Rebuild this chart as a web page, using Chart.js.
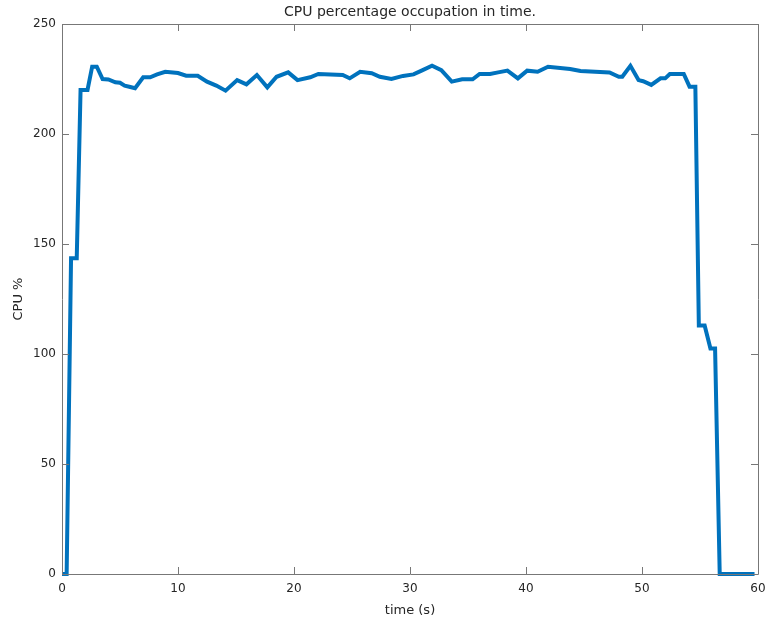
<!DOCTYPE html>
<html>
<head>
<meta charset="utf-8">
<script src="https://cdn.jsdelivr.net/npm/chart.js@4"></script>
<style>
  html, body { margin: 0; padding: 0; background: #fff; }
  #wrap { width: 770px; height: 624px; }
</style>
</head>
<body>
<div id="wrap"><canvas id="cpu-chart" width="770" height="624"></canvas></div>
<script>
// Ocupação de CPU ao longo do tempo (leitura aproximada do gráfico original)
const tempos = [
  0, 0.4, 0.78, 1.27, 1.6, 2.2, 2.6, 3.0, 3.5, 4.0, 4.6, 5.0, 5.4, 5.8, 6.3,
  7.0, 7.6, 8.2, 8.9, 10.0, 10.7, 11.7, 12.5, 13.3, 14.1, 15.1, 15.9, 16.8,
  17.7, 18.5, 19.5, 20.3, 21.4, 22.1, 24.2, 24.8, 25.7, 26.7, 27.4, 28.4,
  29.4, 30.3, 31.0, 31.9, 32.7, 33.6, 34.5, 35.4, 36.0, 36.9, 37.6, 38.4,
  39.3, 40.1, 41.0, 41.9, 43.8, 44.7, 47.2, 48.0, 48.3, 49.0, 49.7, 50.1,
  50.8, 51.6, 52.0, 52.4, 53.6, 54.1, 54.6, 54.9, 55.4, 55.9, 56.3, 56.7, 59.7
];
const cpu = [
  0, 0, 143.5, 143.5, 220, 220, 230.6, 230.6, 225, 224.8, 223.5, 223.3, 222,
  221.5, 220.8, 225.8, 225.8, 227.1, 228.3, 227.7, 226.5, 226.5, 223.8, 222,
  219.7, 224.5, 222.6, 226.8, 221.2, 226, 228, 224.5, 225.8, 227.3, 226.8,
  225.3, 228.3, 227.6, 226, 225, 226.4, 227.1, 228.8, 231, 229, 223.8, 224.9,
  224.9, 227.3, 227.3, 228, 228.8, 225.3, 228.8, 228.3, 230.6, 229.5, 228.6,
  228, 226, 226, 231, 224.5, 224, 222.3, 225.3, 225.3, 227.3, 227.3, 221.5,
  221.5, 113, 113, 102.5, 102.5, 0, 0
];
const ticksX = [0, 10, 20, 30, 40, 50, 60];
const ticksY = [0, 50, 100, 150, 200, 250];
const titulo = "CPU percentage occupation in time.";

const FONTE = "'DejaVu Sans', sans-serif";
const COR_TEXTO = "#262626";
const COR_EIXO = "#777777";

// moldura da área do gráfico + ticks para dentro (estilo MATLAB),
// e o título centrado sobre os eixos (não sobre o canvas inteiro)
const moldura = {
  id: "moldura",
  afterDatasetsDraw(chart) {
    const { ctx, chartArea: a, scales } = chart;
    const L = 7;
    ctx.save();
    ctx.strokeStyle = COR_EIXO;
    ctx.lineWidth = 1;
    ctx.beginPath();
    ctx.rect(Math.round(a.left) + 0.5, Math.round(a.top) + 0.5,
      Math.round(a.right - a.left), Math.round(a.bottom - a.top));
    ticksX.forEach((v) => {
      const x = Math.round(scales.x.getPixelForValue(v)) + 0.5;
      ctx.moveTo(x, a.bottom); ctx.lineTo(x, a.bottom - L);
      ctx.moveTo(x, a.top); ctx.lineTo(x, a.top + L);
    });
    ticksY.forEach((v) => {
      const y = Math.round(scales.y.getPixelForValue(v)) + 0.5;
      ctx.moveTo(a.left, y); ctx.lineTo(a.left + L, y);
      ctx.moveTo(a.right, y); ctx.lineTo(a.right - L, y);
    });
    ctx.stroke();

    ctx.fillStyle = COR_TEXTO;
    ctx.font = "14px " + FONTE;
    ctx.textAlign = "center";
    ctx.textBaseline = "middle";
    ctx.fillText(titulo, (a.left + a.right) / 2, a.top - 12);
    ctx.restore();
  },
};

new Chart(document.getElementById("cpu-chart"), {
  type: "line",
  data: {
    datasets: [{
      label: "CPU",
      data: tempos.map((t, i) => ({ x: t, y: cpu[i] })),
      borderColor: "#0072BD",
      borderWidth: 4,
      pointRadius: 0,
      tension: 0,
      fill: false,
      clip: false,
    }],
  },
  options: {
    responsive: false,
    animation: false,
    layout: { padding: { left: 0, right: 12, top: 24, bottom: 0 } },
    plugins: {
      legend: { display: false },
      tooltip: { enabled: false },
      title: { display: false },
    },
    scales: {
      x: {
        type: "linear",
        min: 0,
        max: 60,
        afterFit: (s) => { s.height = 50; s.paddingLeft = 0; s.paddingRight = 0; },
        afterBuildTicks: (s) => { s.ticks = ticksX.map((v) => ({ value: v })); },
        grid: { display: false, drawTicks: false },
        border: { display: false },
        ticks: { color: COR_TEXTO, padding: 8, maxRotation: 0, font: { family: FONTE, size: 12 } },
        title: {
          display: true,
          text: "time (s)",
          color: COR_TEXTO,
          padding: { top: 6, bottom: 6 },
          font: { family: FONTE, size: 13, lineHeight: 1.2 },
        },
      },
      y: {
        min: 0,
        max: 250,
        afterFit: (s) => { s.width = 62; s.paddingTop = 0; s.paddingBottom = 0; },
        afterBuildTicks: (s) => { s.ticks = ticksY.map((v) => ({ value: v })); },
        grid: { display: false, drawTicks: false },
        border: { display: false },
        ticks: { color: COR_TEXTO, padding: 6, font: { family: FONTE, size: 12 } },
        title: {
          display: true,
          text: "CPU %",
          color: COR_TEXTO,
          padding: { top: 11, bottom: 11 },
          font: { family: FONTE, size: 13, lineHeight: 1.2 },
        },
      },
    },
  },
  plugins: [moldura],
});
</script>
</body>
</html>
